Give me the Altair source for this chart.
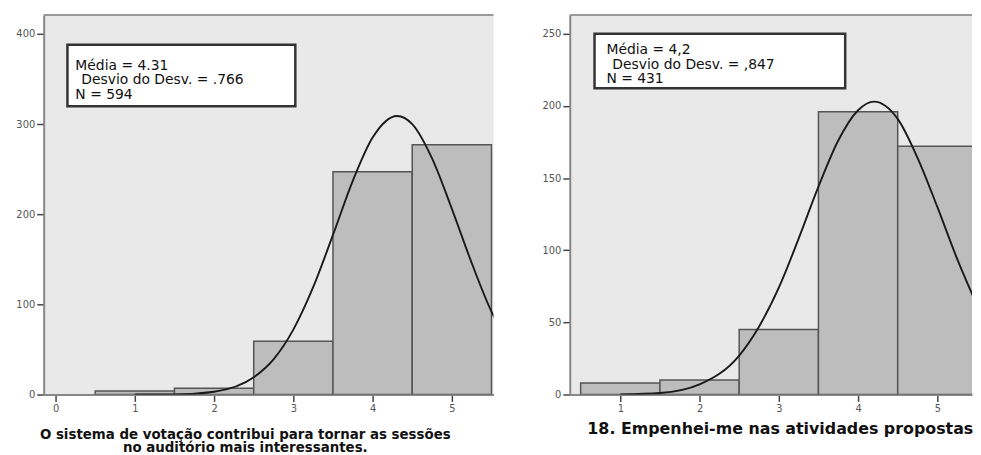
import altair as alt
import pandas as pd

# ---------------- data ----------------
left_categories = [1, 2, 3, 4, 5]
left_counts = [4, 7, 59, 247, 277]
left_curve_x = [1.0, 1.5, 2.0, 2.5, 2.75, 3.0, 3.25, 3.5, 3.75, 4.0, 4.31, 4.5, 4.75, 5.0, 5.25, 5.5, 5.6]
left_curve_y = [0, 0, 3, 19, 39, 72, 119, 177, 237, 285, 309, 300, 262, 206, 146, 92, 75]
left_x_ticks = [0, 1, 2, 3, 4, 5]
left_y_ticks = [0, 100, 200, 300, 400]
left_title = ["O sistema de votação contribui para tornar as sessões",
              "no auditório mais interessantes."]
left_stats = ["Média = 4.31", "Desvio do Desv. = .766", "N = 594"]

right_categories = [1, 2, 3, 4, 5]
right_counts = [8, 10, 45, 196, 172]
right_curve_x = [1.0, 1.5, 2.0, 2.5, 2.75, 3.0, 3.25, 3.5, 3.75, 4.0, 4.2, 4.5, 4.75, 5.0, 5.25, 5.5]
right_curve_y = [0, 1, 7, 27, 47, 74, 108, 144, 176, 197, 203, 191, 164, 130, 94, 62]
right_x_ticks = [1, 2, 3, 4, 5]
right_y_ticks = [0, 50, 100, 150, 200, 250]
right_title = "18. Empenhei-me nas atividades propostas"
right_stats = ["Média = 4,2", "Desvio do Desv. = ,847", "N = 431"]

FONT = "DejaVu Sans"
H = 383
STAT_INDENT = [0, 6, 0]


def panel(cats, counts, cx, cy, xdom, ydom, xticks, yticks, title, title_x, title_y,
          title_size, title_lh, stats, box, text_xy, w):
    bars_df = pd.DataFrame({"cat": cats, "count": counts})
    curve_df = pd.DataFrame({"x": cx, "y": cy})
    xs = alt.Scale(domain=xdom, nice=False, zero=False)
    ys = alt.Scale(domain=ydom, nice=False, zero=True)
    xaxis = alt.Axis(values=xticks, title=title, titleX=title_x, titleY=title_y,
                     titleAlign="center", titleBaseline="top", titleFont=FONT,
                     titleFontSize=title_size, titleFontWeight="bold", titleColor="#111",
                     titleLineHeight=title_lh, grid=False, tickSize=7, tickWidth=1.5,
                     tickColor="#444", domainColor="#888", domainWidth=2,
                     labelFont=FONT, labelFontSize=10, labelColor="#555", labelPadding=2,
                     format="d", labelFlush=False)
    yaxis = alt.Axis(values=yticks, title=None, grid=False, tickSize=7, tickWidth=1.5,
                     tickColor="#444", domainColor="#888", domainWidth=2,
                     labelFont=FONT, labelFontSize=10, labelColor="#555", labelPadding=2,
                     minExtent=30, maxExtent=30, format="d")

    bars = alt.Chart(bars_df).transform_calculate(
        lo="datum.cat - 0.5", hi="datum.cat + 0.5"
    ).mark_rect(fill="#bdbdbd", stroke="#555", strokeWidth=1.5, clip=True).encode(
        x=alt.X("lo:Q", scale=xs, axis=xaxis),
        x2="hi:Q",
        y=alt.Y("count:Q", scale=ys, axis=yaxis),
        y2=alt.datum(0),
    )
    curve = alt.Chart(curve_df).mark_line(
        color="#1a1a1a", strokeWidth=1.9, interpolate="monotone", clip=True
    ).encode(
        x=alt.X("x:Q", scale=xs, axis=xaxis),
        y=alt.Y("y:Q", scale=ys, axis=yaxis),
    )
    one = alt.Data(values=[{}])
    top = alt.Chart(one).mark_rule(color="#999", strokeWidth=2).encode(
        x=alt.value(0), x2=alt.value(w), y=alt.value(0)
    )
    bx0, by0, bx1, by1 = box
    rect = alt.Chart(one).mark_rect(fill="white", stroke="#333", strokeWidth=2.5).encode(
        x=alt.value(bx0), x2=alt.value(bx1), y=alt.value(by0), y2=alt.value(by1)
    )
    texts = []
    for i, line in enumerate(stats):
        texts.append(
            alt.Chart(one).mark_text(
                align="left", baseline="alphabetic", font=FONT, fontSize=14,
                color="#111", text=line
            ).encode(x=alt.value(text_xy[0] + STAT_INDENT[i]),
                     y=alt.value(text_xy[1] + 15 * i))
        )
    return alt.layer(bars, curve, top, rect, *texts).properties(width=w, height=H)


left = panel(left_categories, left_counts, left_curve_x, left_curve_y,
             [-0.15, 5.525], [0, 421], left_x_ticks, left_y_ticks, left_title,
             203, 33, 13.5, 14, left_stats, (24, 30, 254, 92), (32, 55), 454)
right = panel(right_categories, right_counts, right_curve_x, right_curve_y,
              [0.3625, 5.4375], [0, 263], right_x_ticks, right_y_ticks, right_title,
              212, 26, 16, 16, right_stats, (25, 19, 278, 74), (37, 39), 406)

chart = alt.hconcat(left, right, spacing=46).properties(
    padding={"left": 6, "top": 4, "right": 0, "bottom": 0},
    background="white",
).configure_view(stroke=None, fill="#e9e9e9")

chart.save("out.html", embed_options={"renderer": "svg", "actions": False})
